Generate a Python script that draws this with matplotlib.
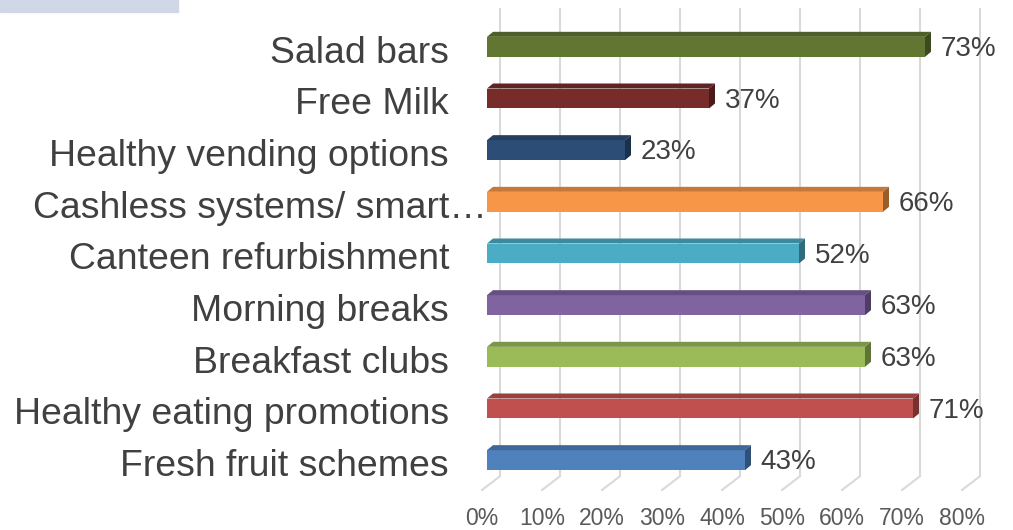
import matplotlib
matplotlib.use("Agg")
import matplotlib.pyplot as plt
from matplotlib.patches import Polygon, Rectangle
from matplotlib.colors import to_rgb

plt.rcParams['font.family'] = ['Liberation Sans', 'DejaVu Sans']

# data, bottom to top
categories = ["Fresh fruit schemes", "Healthy eating promotions", "Breakfast clubs",
              "Morning breaks", "Canteen refurbishment", "Cashless systems/ smart\u2026",
              "Healthy vending options", "Free Milk", "Salad bars"]
values = [43, 71, 63, 63, 52, 66, 23, 37, 73]
colors = ["#4F81BD", "#C0504D", "#9BBB59", "#8064A2", "#4BACC6",
          "#F79646", "#2C4D75", "#772C2A", "#617731"]
ticks = [0, 10, 20, 30, 40, 50, 60, 70, 80]
tick_labels = ["0%", "10%", "20%", "30%", "40%", "50%", "60%", "70%", "80%"]

W, H = 1013, 530
fig = plt.figure(figsize=(W / 100, H / 100), dpi=100)
ax = fig.add_axes([487 / W, (H - 486) / H, 480 / W, 465 / H])
ax.set_xlim(0, 80)
ax.set_ylim(-0.5, 8.5)
ax.axis('off')

# light band top-left
fig.patches.append(Rectangle((0, 1 - 12 / H), 178 / W, 12 / H,
                             transform=fig.transFigure, color="#D0D8E8", zorder=0))

# 3d offsets in data units
back_dx, back_dy = 2.17, 0.19
floor_dx, floor_dy = -0.83, -0.077
depth_dx, depth_dy = 1.0, 0.097
bar_h = 0.387
grid_top = 8.74

def shade(c, f):
    r, g, b = to_rgb(c)
    return (r * f, g * f, b * f)

# gridlines: back wall + floor
for t in ticks:
    xb = t + back_dx
    yb = -0.5 + back_dy
    ax.plot([xb, xb], [yb, grid_top], color="#D9D9D9", lw=1.5, clip_on=False, zorder=1)
    ax.plot([xb, t + floor_dx], [yb, -0.5 + floor_dy], color="#D9D9D9", lw=1.5,
            clip_on=False, zorder=1)

for t, lab in zip(ticks, tick_labels):
    ax.text(t + floor_dx, -1.13, lab, ha='center', va='center', fontsize=16.5,
            color="#595959", clip_on=False)

# bars
y = list(range(len(categories)))
ax.barh(y, values, height=bar_h, color=colors, edgecolor='none', zorder=3)
for i, (v, c) in enumerate(zip(values, colors)):
    top = i + bar_h / 2
    bot = i - bar_h / 2
    ax.add_patch(Polygon([(0, top), (v, top), (v + depth_dx, top + depth_dy),
                          (depth_dx, top + depth_dy)],
                         closed=True, facecolor=shade(c, 0.8), edgecolor='none',
                         zorder=3, clip_on=False))
    ax.add_patch(Polygon([(v, bot), (v, top), (v + depth_dx, top + depth_dy),
                          (v + depth_dx, bot + depth_dy)],
                         closed=True, facecolor=shade(c, 0.62), edgecolor='none',
                         zorder=3, clip_on=False))
    ax.text(v + depth_dx + 1.6, i - 0.04, f"{v}%", ha='left', va='center',
            fontsize=20, color="#404040", clip_on=False)

for i, cat in enumerate(categories):
    xpos = -0.1 if cat.endswith("\u2026") else -6.33
    ax.text(xpos, i - 0.12, cat, ha='right', va='center', fontsize=26.9,
            color="#404040", clip_on=False)

fig.savefig("out.png", dpi=100)
